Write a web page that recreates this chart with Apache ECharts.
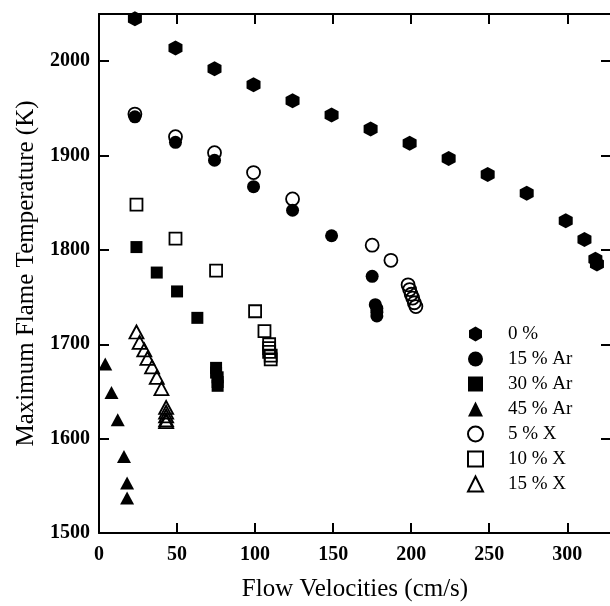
<!DOCTYPE html>
<html>
<head>
<meta charset="utf-8">
<script src="https://cdn.jsdelivr.net/npm/echarts@6/dist/echarts.min.js"></script>
<style>
  html, body { margin: 0; padding: 0; background: #fff; }
  #chart { width: 610px; height: 606px; }
</style>
</head>
<body>
<div id="chart"></div>
<script>
// 数据：流速 (cm/s) 与最高火焰温度 (K)
const xTicks = [0, 50, 100, 150, 200, 250, 300];
const yTicks = [1500, 1600, 1700, 1800, 1900, 2000];

const v0 = [23, 49, 74, 99, 124, 149, 174, 199, 224, 249, 274, 299, 311, 318, 319];
const t0 = [2045, 2014, 1992, 1975, 1958, 1943, 1928, 1913, 1897, 1880, 1860, 1831, 1811, 1790, 1785];

const vAr15 = [23, 49, 74, 99, 124, 149, 175, 177, 178, 178, 178];
const tAr15 = [1941, 1914, 1895, 1867, 1842, 1815, 1772, 1742, 1738, 1734, 1730];

const vAr30 = [24, 37, 50, 63, 75, 75, 76, 76, 76];
const tAr30 = [1803, 1776, 1756, 1728, 1675, 1670, 1665, 1660, 1656];

const vAr45 = [4, 8, 12, 16, 18, 18];
const tAr45 = [1679, 1649, 1620, 1581, 1553, 1537];

const vX5 = [23, 49, 74, 99, 124, 175, 187, 198, 199, 200, 201, 202, 203];
const tX5 = [1944, 1920, 1903, 1882, 1854, 1805, 1789, 1763, 1758, 1753, 1749, 1744, 1740];

const vX10 = [24, 49, 75, 100, 106, 109, 109, 109, 110, 110];
const tX10 = [1848, 1812, 1778, 1735, 1714, 1700, 1696, 1692, 1688, 1684];

const vX15 = [24, 26, 29, 31, 34, 37, 40, 43, 43, 43, 43, 43];
const tX15 = [1713, 1702, 1694, 1685, 1676, 1665, 1653, 1633, 1628, 1624, 1620, 1618];

const hexagon = 'path://M0,-1L0.866,-0.5L0.866,0.5L0,1L-0.866,0.5L-0.866,-0.5Z';
const serif = '"Liberation Serif", "DejaVu Serif", serif';

const zip = (xs, ys) => xs.map((x, i) => [x, ys[i]]);

const filled = (name, xs, ys, symbol, size) => ({
    name, type: 'scatter', symbol, symbolSize: size, z: 3,
    data: zip(xs, ys),
    itemStyle: { color: '#000', opacity: 1 }
});
const open = (name, xs, ys, symbol, size) => ({
    name, type: 'scatter', symbol, symbolSize: size, z: 2,
    data: zip(xs, ys),
    itemStyle: { color: 'rgba(255,255,255,0)', borderColor: '#000', borderWidth: 1.8, opacity: 1 }
});

// onZero 关掉，否则右侧 y 轴会贴到 x=0 上
const line = { show: true, onZero: false, lineStyle: { color: '#000', width: 2 } };
const tick = { show: true, inside: true, length: 10, lineStyle: { color: '#000', width: 2 } };

const chart = echarts.init(document.getElementById('chart'));
chart.setOption({
    animation: false,
    backgroundColor: '#fff',
    grid: { left: 99, right: -1, top: 14, bottom: 73, outerBoundsMode: 'none' },
    xAxis: [{
        type: 'value', min: 0, max: 328, interval: 50, position: 'bottom',
        axisLine: line, axisTick: tick, splitLine: { show: false },
        axisLabel: {
            color: '#000', fontFamily: serif, fontWeight: 'bold', fontSize: 20, margin: 12,
            showMaxLabel: false,
            formatter: v => xTicks.includes(v) ? String(v) : ''
        },
        name: 'Flow Velocities (cm/s)', nameLocation: 'middle', nameGap: 44,
        nameTextStyle: { color: '#000', fontFamily: serif, fontSize: 25 }
    }, {
        type: 'value', min: 0, max: 328, interval: 50, position: 'top',
        axisLine: line, axisTick: tick, splitLine: { show: false },
        axisLabel: { show: false }
    }],
    yAxis: [{
        type: 'value', min: 1500, max: 2050, interval: 100, position: 'left',
        axisLine: line, axisTick: tick, splitLine: { show: false },
        axisLabel: {
            color: '#000', fontFamily: serif, fontWeight: 'bold', fontSize: 20, margin: 9,
            showMaxLabel: false,
            formatter: v => yTicks.includes(v) ? String(v) : ''
        },
        name: 'Maximum Flame Temperature (K)', nameLocation: 'middle', nameGap: 60,
        nameTextStyle: { color: '#000', fontFamily: serif, fontSize: 25 }
    }, {
        type: 'value', min: 1500, max: 2050, interval: 100, position: 'right',
        axisLine: line, axisTick: tick, splitLine: { show: false },
        axisLabel: { show: false }
    }],
    legend: {
        orient: 'vertical', left: 462, top: 319,
        itemWidth: 15, itemHeight: 15, itemGap: 5,
        textStyle: { color: '#000', fontFamily: serif, fontSize: 19, lineHeight: 20, padding: [0, 0, 0, 20] },
        data: ['0 %', '15 % Ar', '30 % Ar', '45 % Ar', '5 % X', '10 % X', '15 % X']
    },
    series: [
        filled('0 %', v0, t0, hexagon, [14, 15]),
        filled('15 % Ar', vAr15, tAr15, 'circle', 13),
        filled('30 % Ar', vAr30, tAr30, 'rect', 12),
        filled('45 % Ar', vAr45, tAr45, 'triangle', [14, 13]),
        open('5 % X', vX5, tX5, 'circle', 13),
        open('10 % X', vX10, tX10, 'rect', 12),
        open('15 % X', vX15, tX15, 'triangle', [14, 13])
    ]
});
</script>
</body>
</html>
